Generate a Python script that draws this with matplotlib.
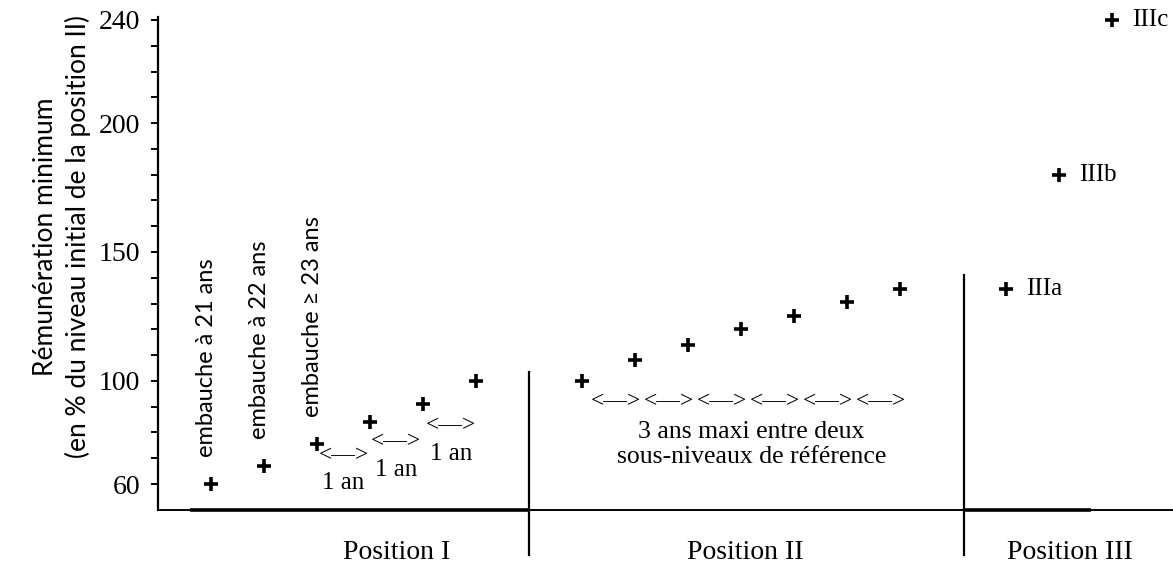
import matplotlib.pyplot as plt

# Position I : embauche (21, 22, >=23 ans) puis une année entre chaque sous-niveau
pos1_x = [1, 2, 3, 4, 5, 6]
pos1_y = [60, 67, 75.5, 84, 91, 100]
# Position II : sous-niveaux de référence
pos2_x = [8, 9, 10, 11, 12, 13, 14]
pos2_y = [100, 108, 114, 120, 125, 130.5, 135.5]
# Position III
pos3_x = [16, 17, 18]
pos3_y = [135.5, 180, 240]
pos3_labels = ["IIIa", "IIIb", "IIIc"]

embauche_labels = ["embauche à 21 ans", "embauche à 22 ans", "embauche ≥ 23 ans"]
section_labels = ["Position I", "Position II", "Position III"]
section_x = [4.5, 11.08, 17.2]
separator_x = [7, 15.2]
separator_top = [103.5, 141]

yticks_major = [60, 100, 150, 200, 240]
yticks_minor = list(range(60, 250, 10))

SERIF = ["Liberation Serif", "DejaVu Serif"]
SANS = ["Lato", "DejaVu Sans"]

fig = plt.figure(figsize=(11.73, 5.65), dpi=100)
ax = fig.add_axes([158 / 1173, 55.2 / 565, 1015 / 1173, 492.4 / 565])
ax.set_xlim(0, 1015 / 53)
ax.set_ylim(50, 241)

mk = dict(marker="+", ls="none", color="black", ms=10, mew=2.6, clip_on=False)
ax.plot(pos1_x, pos1_y, **mk)
ax.plot(pos2_x, pos2_y, **mk)
ax.plot(pos3_x, pos3_y, **mk)

# axes
for s in ["top", "right"]:
    ax.spines[s].set_visible(False)
ax.spines["left"].set_linewidth(1.6)
ax.spines["bottom"].set_linewidth(1.4)
ax.plot([0.6, 7], [50, 50], color="black", lw=2.6, solid_capstyle="butt", clip_on=False)
ax.plot([15.2, 17.6], [50, 50], color="black", lw=2.6, solid_capstyle="butt", clip_on=False)
ax.set_xticks([])
ax.set_yticks(yticks_major)
ax.set_yticks(yticks_minor, minor=True)
ax.tick_params(axis="y", which="both", direction="out", length=5, width=1.4, pad=8)
for lab in ax.get_yticklabels():
    lab.set_fontfamily(SERIF)
    lab.set_fontsize(20)

ax.set_ylabel("Rémunération minimum\n(en % du niveau initial de la position II)",
              fontsize=19, family=SANS, linespacing=1.35)
ax.yaxis.set_label_coords(-0.066, 0.555)

# séparateurs des positions
for x, top in zip(separator_x, separator_top):
    ax.plot([x, x], [32.5, top], color="black", lw=1.6, clip_on=False)
for x, lab in zip(section_x, section_labels):
    ax.text(x, 33.6, lab, ha="center", va="center", fontsize=20, family=SERIF)

# embauche
for x, y, lab in zip(pos1_x[:3], pos1_y[:3], embauche_labels):
    ax.text(x - 0.08, y + 10.5, lab, rotation=90, ha="center", va="bottom",
            fontsize=17, family=SANS)

# 1 an
an_x = [3.5, 4.5, 5.53]
an_arrow_y = [71.2, 76.3, 82.5]
for x, y in zip(an_x, an_arrow_y):
    ax.text(x, y, "<—>", ha="center", va="center", fontsize=17, family=SERIF)
    ax.text(x, y - 10.8, "1 an", ha="center", va="center", fontsize=18, family=SERIF)

# 3 ans maxi
for x0 in pos2_x[:-1]:
    ax.text(x0 + 0.65, 91.8, "<—>", ha="center", va="center", fontsize=17, family=SERIF)
ax.text(11.2, 75.4, "3 ans maxi entre deux\nsous-niveaux de référence", ha="center",
        va="center", fontsize=18.5, family=SERIF, linespacing=1.2)

for x, y, lab in zip(pos3_x, pos3_y, pos3_labels):
    ax.text(x + 0.38, y, lab, ha="left", va="center", fontsize=18, family=SERIF,
            clip_on=False)

fig.savefig("out.png", dpi=100)
